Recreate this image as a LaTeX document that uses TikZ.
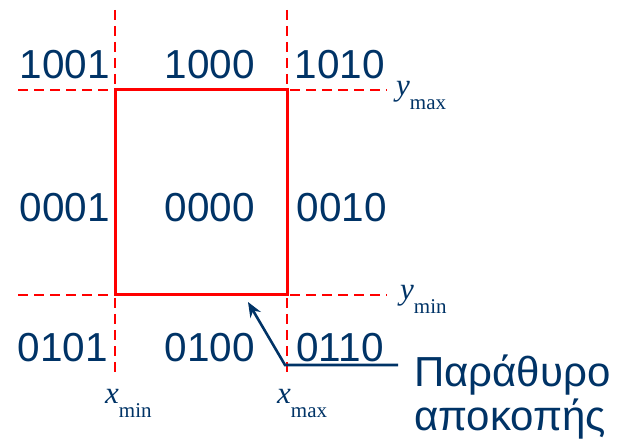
\documentclass[tikz,border=0pt]{standalone}
\usepackage{fontspec}
\setmainfont{Liberation Sans}
\newfontfamily\seriffont{Liberation Serif}
\usetikzlibrary{arrows.meta}
\definecolor{codeblue}{RGB}{0,51,102}
\newcommand{\bnd}[2]{\textit{#1}\raisebox{-14pt}{\fontsize{21}{21}\selectfont #2}}
\begin{document}
\begin{tikzpicture}[x=1pt,y=-1pt,
  code/.style={text=codeblue,font=\fontsize{40.5}{40}\selectfont,inner sep=0pt},
  greek/.style={text=codeblue,font=\fontsize{42}{42}\selectfont,inner sep=0pt},
  bound/.style={text=codeblue,font=\seriffont\fontsize{31}{31}\selectfont,inner sep=0pt},
  guide/.style={red,line width=2.8pt,dash pattern=on 10pt off 6pt},
  win/.style={red,line width=3pt},
  pointer/.style={codeblue,line width=2.6pt}]
\useasboundingbox (0,0) rectangle (618,443);
% guides
\coordinate (vl1) at (115,10); \coordinate (vl2) at (115,374);
\coordinate (vr1) at (287,10); \coordinate (vr2) at (287,374);
\coordinate (ht1) at (18,90);  \coordinate (ht2) at (387,90);
\coordinate (hb1) at (18,295); \coordinate (hb2) at (387,295);
\draw[guide] (vl1) -- (vl2);
\draw[guide] (vr1) -- (vr2);
\draw[guide] (ht1) -- (ht2);
\draw[guide] (hb1) -- (hb2);
% window
\coordinate (w1) at (115,90); \coordinate (w2) at (287,295);
\draw[win] (w1) rectangle (w2);
% codes
\node[code] (c1001) at (65,65) {1001};
\node[code] (c1000) at (210,65) {1000};
\node[code] (c1010) at (340,65) {1010};
\node[code] (c0001) at (65,208) {0001};
\node[code] (c0000) at (210,208) {0000};
\node[code] (c0010) at (342,208) {0010};
\node[code] (c0101) at (63,348) {0101};
\node[code] (c0100) at (210,348) {0100};
\node[code] (c0110) at (340,348) {0110};
% bounds
\node[bound,anchor=base west] (ymax) at (396,96) {\bnd{y}{max}};
\node[bound,anchor=base west] (ymin) at (400,300) {\bnd{y}{min}};
\node[bound,anchor=base west] (xmin) at (105,403) {\bnd{x}{min}};
\node[bound,anchor=base west] (xmax) at (277,403) {\bnd{x}{max}};
% label
\node[greek,anchor=base west] (lbl) at (414,386) {Παράθυρο};
\node[greek,anchor=base west] (lbl2) at (414,430) {αποκοπής};
\coordinate (pk) at (285,365);
\coordinate (pe) at (398,365);
\coordinate (pt) at (248,302);
\draw[pointer,-{Stealth[length=15pt,width=12pt]}] (pe) -- (pk) -- (pt);
\end{tikzpicture}
\end{document}
